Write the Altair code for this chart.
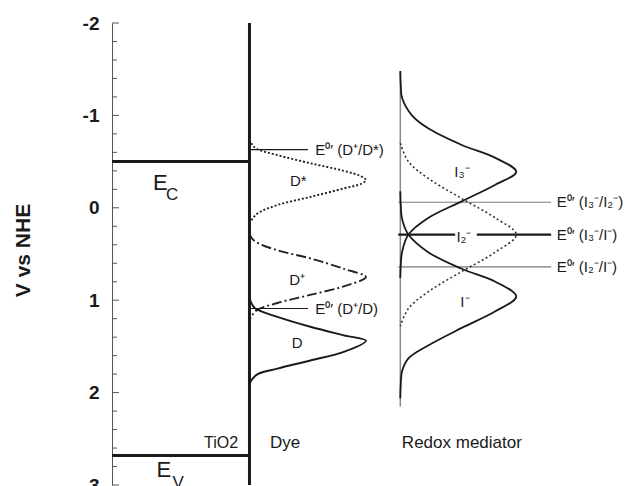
import altair as alt
import pandas as pd

# ---------------- data ----------------
# Potentials in V vs NHE, densities relative to each peak (0..1)
DSTAR_POT = [-0.74, -0.69, -0.64, -0.57, -0.48, -0.40, -0.34, -0.30, -0.26, -0.21, -0.12, -0.03, 0.06, 0.13, 0.17]
DSTAR_DEN = [0.0, 0.02, 0.06, 0.24, 0.53, 0.81, 0.96, 1.0, 0.96, 0.81, 0.53, 0.24, 0.07, 0.02, 0.0]
DPLUS_POT = [0.27, 0.33, 0.38, 0.46, 0.55, 0.66, 0.75, 0.85, 0.94, 1.03, 1.11, 1.17, 1.22]
DPLUS_DEN = [0.0, 0.02, 0.07, 0.24, 0.53, 0.81, 1.0, 0.81, 0.53, 0.24, 0.06, 0.02, 0.0]
D_POT = [0.98, 1.04, 1.09, 1.18, 1.29, 1.38, 1.44, 1.56, 1.65, 1.74, 1.80, 1.86, 1.91]
D_DEN = [0.0, 0.02, 0.05, 0.24, 0.53, 0.81, 1.0, 0.81, 0.53, 0.24, 0.07, 0.02, 0.0]
I3_POT = [-1.48, -1.33, -1.19, -1.00, -0.86, -0.68, -0.54, -0.39, -0.25, -0.07, 0.11, 0.29, 0.48, 0.62, 0.76]
I3_DEN = [0.0, 0.004, 0.015, 0.10, 0.24, 0.53, 0.82, 1.0, 0.82, 0.53, 0.24, 0.07, 0.015, 0.004, 0.0]
I2_POT = [-0.70, -0.50, -0.32, -0.10, 0.11, 0.29, 0.48, 0.69, 0.91, 1.09, 1.28]
I2_DEN = [0.0, 0.07, 0.24, 0.53, 0.82, 1.0, 0.82, 0.53, 0.24, 0.07, 0.0]
I_POT = [-0.18, -0.03, 0.12, 0.29, 0.48, 0.66, 0.80, 0.96, 1.12, 1.30, 1.49, 1.63, 1.77, 1.91, 2.06]
I_DEN = [0.0, 0.004, 0.015, 0.07, 0.24, 0.53, 0.82, 1.0, 0.82, 0.53, 0.24, 0.07, 0.015, 0.004, 0.0]

# Energy levels (V vs NHE)
E_C = -0.5
E_V = 2.68
E_DPLUS_DSTAR = -0.63
E_DPLUS_D = 1.09
E_I3_I2 = -0.06
E_I3_I = 0.29
E_I2_I = 0.64

MAJOR_TICKS = [-2, -1, 0, 1, 2, 3]
MINOR_TICKS = [-1.8, -1.6, -1.4, -1.2, -0.8, -0.6, -0.4, -0.2, 0.2, 0.4, 0.6, 0.8,
               1.2, 1.4, 1.6, 1.8, 2.2, 2.4, 2.6, 2.8]

# ---------------- layout (arbitrary horizontal units 0..10) ----------------
TIO2_X = 2.68
DYE_AMP = 2.27
REDOX_X = 5.62
REDOX_AMP = 2.26
FONT = "Liberation Sans"
INK = "#1a1a1a"


def curve(pot, den, base, amp):
    return pd.DataFrame({"pot": pot, "x": [base + amp * d for d in den]})


yscale = alt.Scale(domain=[-2, 3], reverse=True, nice=False, zero=False)
xscale = alt.Scale(domain=[0, 10], nice=False, zero=False)
yaxis = alt.Axis(values=MAJOR_TICKS, ticks=False, grid=False, domain=True,
                 domainColor="#555", domainWidth=1, labelPadding=13,
                 labelFont=FONT, labelFontSize=19, labelFontWeight="bold",
                 labelColor=INK, labelFlush=False, labelOverlap=False,
                 labelExpr="'' + datum.value", labelBaseline="middle",
                 title="V vs NHE", titleFont=FONT, titleFontSize=21,
                 titleFontWeight="bold", titleColor=INK, titleAngle=-90,
                 titleX=-89, titleY=227, titleAlign="center",
                 titleBaseline="middle")


def Y(field, **kw):
    return alt.Y(field, scale=yscale, axis=yaxis, **kw)


def X(field):
    return alt.X(field, scale=xscale, axis=None)


layers = []

# axis ticks (drawn inward)
layers.append(alt.Chart(pd.DataFrame({"v": MAJOR_TICKS})).mark_rule(color="#555", strokeWidth=1)
              .encode(y=Y("v:Q"), x=alt.value(0), x2=alt.value(7)))
layers.append(alt.Chart(pd.DataFrame({"v": MINOR_TICKS})).mark_rule(color="#555", strokeWidth=1)
              .encode(y=Y("v:Q"), x=alt.value(0), x2=alt.value(5)))

# band edges of TiO2
bands = pd.DataFrame({"x": [0, 0], "x2": [TIO2_X, TIO2_X], "y": [E_C, E_V]})
layers.append(alt.Chart(bands).mark_rule(color="#1a1a1a", strokeWidth=3)
              .encode(x=X("x:Q"), x2="x2:Q", y=Y("y:Q")))

# TiO2 / dye interface vertical line
iface = pd.DataFrame({"x": [TIO2_X], "y": [-2], "y2": [3]})
layers.append(alt.Chart(iface).mark_rule(color="#1a1a1a", strokeWidth=3)
              .encode(x=X("x:Q"), y=Y("y:Q"), y2="y2:Q"))

# redox baseline
rbase = pd.DataFrame({"x": [REDOX_X], "y": [-1.47], "y2": [2.15]})
layers.append(alt.Chart(rbase).mark_rule(color="#888", strokeWidth=1.5)
              .encode(x=X("x:Q"), y=Y("y:Q"), y2="y2:Q"))

# dye formal potential lines
dyel = pd.DataFrame({"x": [TIO2_X, TIO2_X], "x2": [3.82, 3.82], "y": [E_DPLUS_DSTAR, E_DPLUS_D]})
layers.append(alt.Chart(dyel).mark_rule(color="#1a1a1a", strokeWidth=1.2)
              .encode(x=X("x:Q"), x2="x2:Q", y=Y("y:Q")))

# redox thin lines
rthin = pd.DataFrame({"x": [5.58, 5.58], "x2": [8.56, 8.56], "y": [E_I3_I2, E_I2_I]})
layers.append(alt.Chart(rthin).mark_rule(color="#7a7a7a", strokeWidth=1.2)
              .encode(x=X("x:Q"), x2="x2:Q", y=Y("y:Q")))

# redox thick line (broken around the I2- label)
rthick = pd.DataFrame({"x": [5.58, 7.11], "x2": [6.69, 8.56], "y": [E_I3_I, E_I3_I]})
layers.append(alt.Chart(rthick).mark_rule(color="#1a1a1a", strokeWidth=2.2)
              .encode(x=X("x:Q"), x2="x2:Q", y=Y("y:Q")))

# density curves
curves = [
    (curve(DSTAR_POT, DSTAR_DEN, TIO2_X, DYE_AMP), [2, 2], 1.9, "#222"),
    (curve(DPLUS_POT, DPLUS_DEN, TIO2_X, DYE_AMP), [10, 3, 2, 3], 1.9, "#222"),
    (curve(D_POT, D_DEN, TIO2_X, DYE_AMP), None, 1.9, "#1a1a1a"),
    (curve(I3_POT, I3_DEN, REDOX_X, REDOX_AMP), None, 1.8, "#1a1a1a"),
    (curve(I2_POT, I2_DEN, REDOX_X, REDOX_AMP), [2, 2.5], 1.6, "#333"),
    (curve(I_POT, I_DEN, REDOX_X, REDOX_AMP), None, 1.8, "#1a1a1a"),
]
for df, dash, w, col in curves:
    kw = dict(color=col, strokeWidth=w, interpolate="catmull-rom")
    if dash:
        kw["strokeDash"] = dash
    layers.append(alt.Chart(df).mark_line(**kw)
                  .encode(x=X("x:Q"), y=Y("pot:Q"), order=alt.Order("pot:Q")))

# text annotations
left_txt = pd.DataFrame({
    "t": ["E\u2070\u2032 (D\u207a/D*)", "E\u2070\u2032 (D\u207a/D)",
          "E\u2070\u2032 (I\u2083\u207b/I\u2082\u207b)", "E\u2070\u2032 (I\u2083\u207b/I\u207b)",
          "E\u2070\u2032 (I\u2082\u207b/I\u207b)", "Dye"],
    "x": [3.96, 3.96, 8.67, 8.67, 8.67, 3.08],
    "y": [E_DPLUS_DSTAR, E_DPLUS_D, E_I3_I2, E_I3_I, E_I2_I, 2.55],
    "s": [15, 15, 15, 15, 15, 17],
})
center_txt = pd.DataFrame({
    "t": ["E", "C", "E", "V", "D*", "D\u207a", "D", "I\u2083\u207b", "I\u2082\u207b", "I\u207b",
          "Redox mediator"],
    "x": [0.94, 1.17, 1.01, 1.29, 3.63, 3.61, 3.61, 6.82, 6.86, 6.88, 6.82],
    "y": [-0.27, -0.14, 2.84, 2.98, -0.29, 0.78, 1.46, -0.39, 0.32, 1.02, 2.55],
    "s": [22, 17, 22, 17, 15, 15, 15, 15, 15, 15, 17],
})
right_txt = pd.DataFrame({"t": ["TiO2"], "x": [2.46], "y": [2.55], "s": [16]})

for df, al in [(left_txt, "left"), (center_txt, "center"), (right_txt, "right")]:
    layers.append(alt.Chart(df).mark_text(align=al, baseline="middle", font=FONT, color=INK)
                  .encode(x=X("x:Q"), y=Y("y:Q"), text="t:N", size=alt.Size("s:Q", scale=None)))

chart = alt.layer(*layers).properties(
    width=513, height=462,
    autosize=alt.AutoSizeParams(type="none"),
    padding={"left": 112, "top": 23, "right": 0, "bottom": 1},
    background="white",
).configure_view(stroke=None)

chart.save("out.html", embed_options={"renderer": "svg", "actions": False})
